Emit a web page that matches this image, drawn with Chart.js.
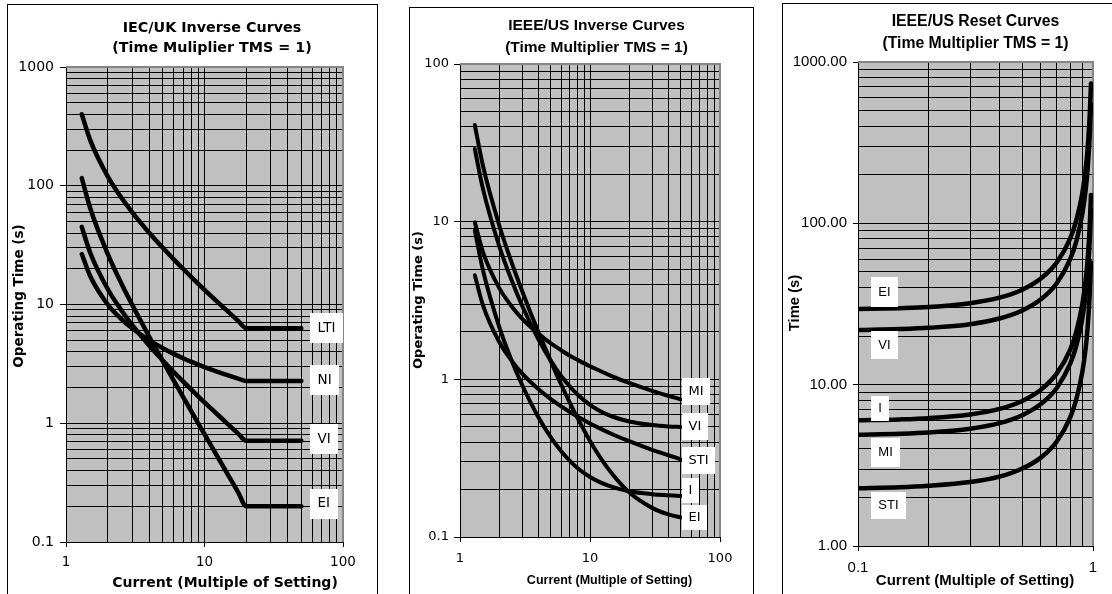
<!DOCTYPE html>
<html><head><meta charset="utf-8">
<script src="https://cdn.jsdelivr.net/npm/chart.js@4.4.1/dist/chart.umd.min.js"></script>
<style>
html,body{margin:0;padding:0;background:#fff;width:1112px;height:594px;overflow:hidden;}
.panel{position:absolute;box-sizing:border-box;border:1px solid #000;background:#fff;height:700px;}
canvas{position:absolute;left:0;top:0;}
</style></head><body>
<div class="panel" style="left:7px;top:4px;width:371px"></div>
<div class="panel" style="left:409px;top:7px;width:345px"></div>
<div class="panel" style="left:782px;top:3px;width:400px"></div>
<canvas id="c1" width="1112" height="594"></canvas>
<canvas id="c2" width="1112" height="594"></canvas>
<canvas id="c3" width="1112" height="594"></canvas>
<script>
// ---------- data ----------
const iecCurrent = [1.3, 1.5, 2, 2.5, 3, 4, 5, 6, 7, 8, 10, 12, 15, 17.5, 20, 30, 40, 50];
const iecLTI = [400, 240, 120, 80, 60, 40, 30, 24, 20, 17.1, 13.3, 10.9, 8.57, 7.27, 6.32, 6.32, 6.32, 6.32];
const iecNI  = [26.6, 17.2, 10.0, 7.57, 6.30, 4.98, 4.28, 3.84, 3.53, 3.30, 2.97, 2.75, 2.52, 2.38, 2.27, 2.27, 2.27, 2.27];
const iecVI  = [45, 27, 13.5, 9.0, 6.75, 4.50, 3.38, 2.70, 2.25, 1.93, 1.50, 1.23, 0.964, 0.818, 0.711, 0.711, 0.711, 0.711];
const iecEI  = [116, 64, 26.7, 15.2, 10.0, 5.33, 3.33, 2.29, 1.67, 1.27, 0.808, 0.559, 0.357, 0.262, 0.200, 0.200, 0.200, 0.200];

const ieeeCurrent = [1.3, 1.5, 2, 2.5, 3, 4, 5, 6, 7, 8, 10, 12, 15, 20, 30, 40, 50];
const ieeeMI  = [9.90, 6.44, 3.80, 2.90, 2.43, 1.95, 1.69, 1.53, 1.41, 1.33, 1.21, 1.13, 1.04, 0.948, 0.846, 0.787, 0.747];
const ieeeVI  = [28.9, 16.2, 7.03, 4.23, 2.94, 1.80, 1.31, 1.05, 0.900, 0.802, 0.689, 0.628, 0.579, 0.540, 0.513, 0.503, 0.499];
const ieeeSTI = [4.57, 2.96, 1.73, 1.31, 1.09, 0.868, 0.749, 0.673, 0.620, 0.581, 0.525, 0.487, 0.447, 0.405, 0.357, 0.330, 0.311];
const ieeeI   = [8.80, 4.94, 2.16, 1.31, 0.924, 0.577, 0.428, 0.350, 0.304, 0.274, 0.240, 0.222, 0.207, 0.195, 0.187, 0.184, 0.182];
const ieeeEI  = [41.0, 22.7, 9.52, 5.49, 3.65, 2.00, 1.30, 0.927, 0.709, 0.569, 0.407, 0.319, 0.248, 0.192, 0.153, 0.139, 0.133];

const resetCurrent = [0.1, 0.15, 0.2, 0.3, 0.4, 0.5, 0.6, 0.7, 0.8, 0.85, 0.9, 0.93, 0.95, 0.97, 0.98];
const resetEI  = [29.4, 29.8, 30.3, 32.0, 34.6, 38.8, 45.5, 57.1, 80.8, 105, 153, 215, 298, 492, 735];
const resetVI  = [21.8, 22.1, 22.5, 23.7, 25.7, 28.8, 33.8, 42.4, 60.0, 77.8, 114, 160, 222, 366, 545];
const resetI   = [6.01, 6.09, 6.20, 6.54, 7.08, 7.93, 9.30, 11.7, 16.5, 21.4, 31.3, 44.0, 61.0, 101, 150];
const resetMI  = [4.90, 4.96, 5.05, 5.33, 5.77, 6.47, 7.58, 9.51, 13.5, 17.5, 25.5, 35.9, 49.7, 82.1, 122];
const resetSTI = [2.28, 2.31, 2.36, 2.49, 2.69, 3.02, 3.53, 4.43, 6.28, 8.15, 11.9, 16.7, 23.2, 38.3, 57.1];

const iecXTicks = [1, 10, 100];          const iecXLabels = ['1', '10', '100'];
const iecYTicks = [0.1, 1, 10, 100, 1000]; const iecYLabels = ['0.1', '1', '10', '100', '1000'];
const ieeeXTicks = [1, 10, 100];         const ieeeXLabels = ['1', '10', '100'];
const ieeeYTicks = [0.1, 1, 10, 100];    const ieeeYLabels = ['0.1', '1', '10', '100'];
const resetXTicks = [0.1, 1];            const resetXLabels = ['0.1', '1'];
const resetYTicks = [1, 10, 100, 1000];  const resetYLabels = ['1.00', '10.00', '100.00', '1000.00'];

const iecTitle = ['IEC/UK Inverse Curves', '(Time Muliplier TMS = 1)'];
const ieeeTitle = ['IEEE/US Inverse Curves', '(Time Multiplier TMS = 1)'];
const resetTitle = ['IEEE/US Reset Curves', '(Time Multiplier TMS = 1)'];
const xAxisTitle = 'Current (Multiple of Setting)';

// ---------- helpers ----------
const DJ = "'DejaVu Sans', sans-serif";
const LB = "'Liberation Sans', Arial, sans-serif";
function pts(xs, ys) { return xs.map((x, i) => ({x: x, y: ys[i]})); }
function logGrid(majors) {
  const v = [];
  for (let i = 0; i < majors.length - 1; i++) for (let k = 1; k < 10; k++) v.push(majors[i] * k);
  v.push(majors[majors.length - 1]);
  return v;
}
function majorIndex(value, majors) {
  return majors.findIndex(m => Math.abs(Math.log10(value / m)) < 1e-6);
}

const bgPlugin = {
  id: 'plotBg',
  beforeDraw(chart) {
    const {ctx, chartArea: a} = chart;
    ctx.save(); ctx.fillStyle = '#c0c0c0';
    ctx.fillRect(a.left, a.top, a.right - a.left, a.bottom - a.top);
    ctx.restore();
  },
  beforeDatasetsDraw(chart) {
    const {ctx, chartArea: a} = chart;
    ctx.save(); ctx.strokeStyle = '#858585'; ctx.lineWidth = 2;
    ctx.beginPath();
    ctx.moveTo(a.left, a.top); ctx.lineTo(a.right, a.top); ctx.lineTo(a.right, a.bottom);
    ctx.stroke(); ctx.restore();
  }
};
const notesPlugin = {
  id: 'curveNotes',
  afterDatasetsDraw(chart, args, opts) {
    const {ctx} = chart; const x = chart.scales.x, y = chart.scales.y;
    ctx.save(); ctx.font = opts.font; ctx.textAlign = 'center'; ctx.textBaseline = 'middle';
    for (const n of opts.notes) {
      const left = x.getPixelForValue(opts.left);
      const cy = y.getPixelForValue(n.y);
      const w = ctx.measureText(n.text).width + 2 * opts.padX;
      const h = n.h || opts.h;
      ctx.fillStyle = '#fff'; ctx.fillRect(Math.round(left), Math.round(cy - h / 2), Math.round(w), h);
      ctx.fillStyle = '#000'; ctx.fillText(n.text, left + w / 2, cy);
    }
    ctx.restore();
  }
};
const axisTextPlugin = {
  id: 'axisText',
  afterDraw(chart, args, opts) {
    const {ctx} = chart;
    for (const t of opts.items) {
      ctx.save(); ctx.font = t.font; ctx.fillStyle = '#000';
      ctx.textAlign = 'center'; ctx.textBaseline = 'middle';
      ctx.translate(t.x, t.y); if (t.rot) ctx.rotate(t.rot);
      ctx.fillText(t.text, 0, 0); ctx.restore();
    }
  }
};

function logAxis(o) {
  const grid = logGrid(o.majors);
  return {
    type: 'logarithmic', position: o.position, min: o.majors[0], max: o.majors[o.majors.length - 1],
    afterBuildTicks: s => { s.ticks = grid.map(v => ({value: v})); },
    afterFit: s => { if (o.position === 'bottom') s.height = o.size; else s.width = o.size; },
    grid: {
      color: '#000', lineWidth: 1, drawTicks: true, tickLength: o.tickLength,
      tickColor: c => (c.tick && majorIndex(c.tick.value, o.majors) >= 0) ? '#000' : 'rgba(0,0,0,0)'
    },
    border: {display: true, color: '#000', width: 1},
    ticks: {
      autoSkip: false, maxRotation: 0, minRotation: 0, padding: o.padding, color: '#000',
      font: {family: o.family, size: o.fontSize},
      callback: v => { const i = majorIndex(v, o.majors); return i >= 0 ? o.labels[i] : ''; }
    }
  };
}

function makePanel(id, p) {
  const datasets = p.series.map(s => ({
    label: s.name, data: pts(p.current, s.values), borderColor: '#000', borderWidth: p.lineWidth,
    pointRadius: 0, cubicInterpolationMode: 'monotone', borderCapStyle: 'round', borderJoinStyle: 'round', fill: false
  }));
  return new Chart(document.getElementById(id), {
    type: 'line',
    data: {datasets: datasets},
    options: {
      responsive: false, animation: false, events: [], devicePixelRatio: 1,
      layout: {padding: {left: p.padL, right: p.padR, top: 0, bottom: 0}},
      plugins: {
        legend: {display: false}, tooltip: {enabled: false},
        title: {display: true, text: p.title, color: '#000', fullSize: p.titleFull,
          font: {family: p.titleFamily, size: p.titleSize, weight: 'bold', lineHeight: p.titleLH / p.titleSize},
          padding: {top: p.titlePadTop, bottom: p.titlePadBottom}},
        curveNotes: p.notes,
        axisText: {items: p.axisTitles}
      },
      scales: {
        x: logAxis(Object.assign({position: 'bottom'}, p.xAxis)),
        y: logAxis(Object.assign({position: 'left'}, p.yAxis)),
        y2: {type: 'linear', position: 'right', display: true, grid: {display: false},
             ticks: {display: false}, border: {display: false}, afterFit: s => { s.width = p.rightW; }}
      }
    },
    plugins: [bgPlugin, notesPlugin, axisTextPlugin]
  });
}

// Panel 1: IEC/UK
makePanel('c1', {
  current: iecCurrent, lineWidth: 4.5,
  series: [{name: 'LTI', values: iecLTI}, {name: 'NI', values: iecNI}, {name: 'VI', values: iecVI}, {name: 'EI', values: iecEI}],
  title: iecTitle, titleFull: true, titleFamily: DJ, titleSize: 14.3, titleLH: 20, titlePadTop: 18, titlePadBottom: 9,
  padL: 2, padR: 690, rightW: 79,
  xAxis: {majors: iecXTicks, labels: iecXLabels, size: 52, tickLength: 5, padding: 7, family: DJ, fontSize: 13.5},
  yAxis: {majors: iecYTicks, labels: iecYLabels, size: 64, tickLength: 6, padding: 6, family: DJ, fontSize: 14},
  notes: {font: "13.5px " + DJ, padX: 7.5, h: 30, left: 57.8,
    notes: [{text: 'LTI', y: 6.34}, {text: 'NI', y: 2.31}, {text: 'VI', y: 0.73}, {text: 'EI', y: 0.209}]},
  axisTitles: [
    {text: xAxisTitle, x: 225, y: 583.5, font: "bold 14px " + DJ},
    {text: 'Operating Time (s)', x: 19.5, y: 296, rot: -Math.PI / 2, font: "bold 13.5px " + DJ}
  ]
});

// Panel 2: IEEE/US inverse
makePanel('c2', {
  current: ieeeCurrent, lineWidth: 4,
  series: [{name: 'MI', values: ieeeMI}, {name: 'VI', values: ieeeVI}, {name: 'STI', values: ieeeSTI}, {name: 'I', values: ieeeI}, {name: 'EI', values: ieeeEI}],
  title: ieeeTitle, titleFull: true, titleFamily: LB, titleSize: 15.5, titleLH: 21.8, titlePadTop: 14.8, titlePadBottom: 5.6,
  padL: 405, padR: 324, rightW: 68,
  xAxis: {majors: ieeeXTicks, labels: ieeeXLabels, size: 57, tickLength: 5, padding: 9, family: DJ, fontSize: 13},
  yAxis: {majors: ieeeYTicks, labels: ieeeYLabels, size: 55, tickLength: 6, padding: 5, family: DJ, fontSize: 13},
  notes: {font: "13px " + DJ, padX: 6.5, h: 27, left: 51,
    notes: [{text: 'MI', y: 0.84}, {text: 'VI', y: 0.50}, {text: 'STI', y: 0.304}, {text: 'I', y: 0.196, h: 25}, {text: 'EI', y: 0.132, h: 25}]},
  axisTitles: [
    {text: xAxisTitle, x: 609.5, y: 580.7, font: "bold 12.5px " + LB},
    {text: 'Operating Time (s)', x: 419, y: 300, rot: -Math.PI / 2, font: "bold 13px " + DJ}
  ]
});

// Panel 3: IEEE/US reset
makePanel('c3', {
  current: resetCurrent, lineWidth: 4.5,
  series: [{name: 'EI', values: resetEI}, {name: 'VI', values: resetVI}, {name: 'I', values: resetI}, {name: 'MI', values: resetMI}, {name: 'STI', values: resetSTI}],
  title: resetTitle, titleFull: false, titleFamily: LB, titleSize: 15.8, titleLH: 21.6, titlePadTop: 10.9, titlePadBottom: 7.9,
  padL: 783, padR: 0, rightW: 19,
  xAxis: {majors: resetXTicks, labels: resetXLabels, size: 48, tickLength: 5, padding: 8, family: LB, fontSize: 15},
  yAxis: {majors: resetYTicks, labels: resetYLabels, size: 75, tickLength: 5, padding: 6, family: LB, fontSize: 15},
  notes: {font: "13px " + LB, padX: 7.3, h: 28, left: 0.1136,
    notes: [{text: 'EI', y: 37.5, h: 30}, {text: 'VI', y: 17.6}, {text: 'I', y: 7.1, h: 25}, {text: 'MI', y: 3.8, h: 29}, {text: 'STI', y: 1.78, h: 27}]},
  axisTitles: [
    {text: xAxisTitle, x: 975, y: 580.5, font: "bold 15px " + LB},
    {text: 'Time (s)', x: 795, y: 303, rot: -Math.PI / 2, font: "bold 14.8px " + LB}
  ]
});
</script>
</body></html>
